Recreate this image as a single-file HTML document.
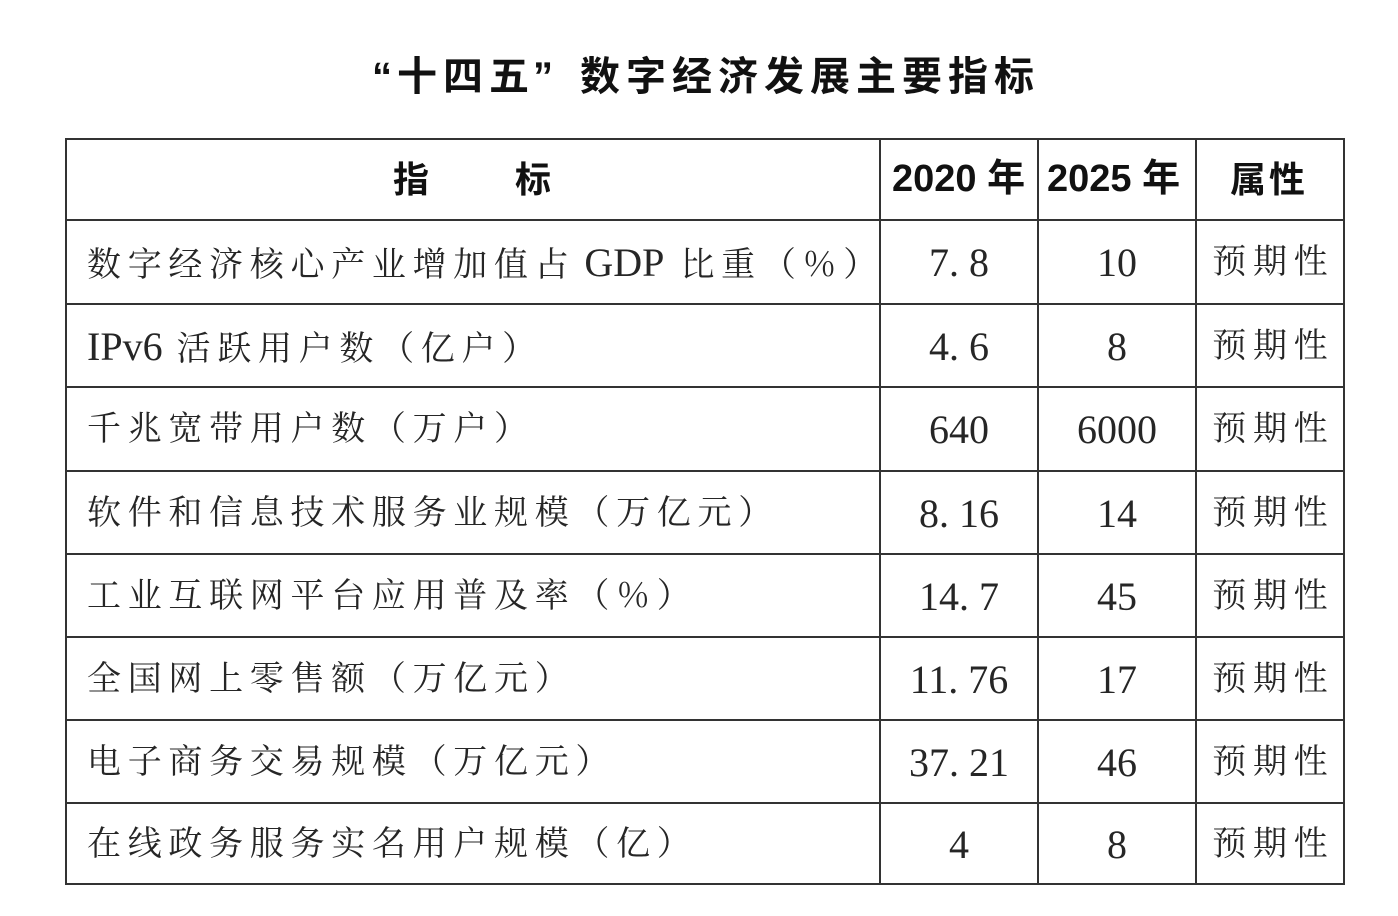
<!DOCTYPE html>
<html>
<head>
<meta charset="utf-8">
<style>
html,body{margin:0;padding:0}
body{width:1398px;height:916px;background:#fff;position:relative;overflow:hidden}
.h,.v{position:absolute;background:#333}
.h{left:65px;width:1280px;height:2px}
.v{top:138px;height:747px;width:2px}
.c{position:absolute;white-space:nowrap;color:#262626;font-family:"Liberation Serif","Noto Serif CJK SC",serif;font-size:34px}
.z{font-family:"Liberation Serif","Noto Serif CJK SC",serif;font-size:34px;letter-spacing:6.7px}
.l{font-family:"Liberation Serif",serif;font-size:40px;letter-spacing:0}
.n{position:absolute;white-space:nowrap;text-align:center;color:#262626;font-family:"Liberation Serif","Noto Serif CJK SC",serif;font-size:40px}
.p{position:absolute;white-space:nowrap;text-align:center;color:#262626;font-family:"Liberation Serif","Noto Serif CJK SC",serif;font-size:34px;letter-spacing:6.7px;text-indent:6.7px}
.b{position:absolute;white-space:nowrap;color:#111;font-family:"Liberation Sans","Noto Sans CJK SC",sans-serif;font-weight:bold}
</style>
</head>
<body>

<!-- Title -->
<div class="b" style="left:372px;top:51px;height:52px;line-height:52px;font-size:40px;">“</div>
<div class="b" style="left:397px;top:51px;height:52px;line-height:52px;font-size:40px;letter-spacing:6px;">十四五</div>
<div class="b" style="left:533px;top:51px;height:52px;line-height:52px;font-size:40px;">”</div>
<div class="b" style="left:580px;top:51px;height:52px;line-height:52px;font-size:40px;letter-spacing:6px;">数字经济发展主要指标</div>

<!-- Grid lines -->
<div class="h" style="top:138px"></div>
<div class="h" style="top:219px"></div>
<div class="h" style="top:303px"></div>
<div class="h" style="top:386px"></div>
<div class="h" style="top:470px"></div>
<div class="h" style="top:553px"></div>
<div class="h" style="top:636px"></div>
<div class="h" style="top:719px"></div>
<div class="h" style="top:802px"></div>
<div class="h" style="top:883px"></div>
<div class="v" style="left:65px"></div>
<div class="v" style="left:879px"></div>
<div class="v" style="left:1037px"></div>
<div class="v" style="left:1195px"></div>
<div class="v" style="left:1343px"></div>

<!-- Header -->
<div class="b" style="left:393px;top:139px;height:81px;line-height:81px;font-size:36px;">指</div>
<div class="b" style="left:515px;top:139px;height:81px;line-height:81px;font-size:36px;">标</div>
<div class="b" style="left:892px;top:139px;height:81px;line-height:81px;font-size:38px;">2020 年</div>
<div class="b" style="left:1047px;top:139px;height:81px;line-height:81px;font-size:38px;">2025 年</div>
<div class="b" style="left:1230px;top:139px;height:81px;line-height:81px;font-size:36px;letter-spacing:3px;">属性</div>

<!-- Row 1 -->
<div class="c" style="left:87px;top:221px;height:84px;line-height:84px;"><span class="z">数字经济核心产业增加值占</span><span class="l" style="margin-left:9px;margin-right:16px;">GDP</span><span class="z">比重（％）</span></div>
<div class="n" style="left:881px;width:156px;top:221px;height:84px;line-height:84px;">7. 8</div>
<div class="n" style="left:1039px;width:156px;top:221px;height:84px;line-height:84px;">10</div>
<div class="p" style="left:1197px;width:146px;top:221px;height:84px;line-height:84px;">预期性</div>

<!-- Row 2 -->
<div class="c" style="left:87px;top:305px;height:83px;line-height:83px;"><span class="l">IPv6</span><span class="z" style="margin-left:14px;">活跃用户数（亿户）</span></div>
<div class="n" style="left:881px;width:156px;top:305px;height:83px;line-height:83px;">4. 6</div>
<div class="n" style="left:1039px;width:156px;top:305px;height:83px;line-height:83px;">8</div>
<div class="p" style="left:1197px;width:146px;top:305px;height:83px;line-height:83px;">预期性</div>

<!-- Row 3 -->
<div class="c" style="left:87px;top:388px;height:84px;line-height:84px;"><span class="z">千兆宽带用户数（万户）</span></div>
<div class="n" style="left:881px;width:156px;top:388px;height:84px;line-height:84px;">640</div>
<div class="n" style="left:1039px;width:156px;top:388px;height:84px;line-height:84px;">6000</div>
<div class="p" style="left:1197px;width:146px;top:388px;height:84px;line-height:84px;">预期性</div>

<!-- Row 4 -->
<div class="c" style="left:87px;top:472px;height:83px;line-height:83px;"><span class="z">软件和信息技术服务业规模（万亿元）</span></div>
<div class="n" style="left:881px;width:156px;top:472px;height:83px;line-height:83px;">8. 16</div>
<div class="n" style="left:1039px;width:156px;top:472px;height:83px;line-height:83px;">14</div>
<div class="p" style="left:1197px;width:146px;top:472px;height:83px;line-height:83px;">预期性</div>

<!-- Row 5 -->
<div class="c" style="left:87px;top:555px;height:83px;line-height:83px;"><span class="z">工业互联网平台应用普及率（％）</span></div>
<div class="n" style="left:881px;width:156px;top:555px;height:83px;line-height:83px;">14. 7</div>
<div class="n" style="left:1039px;width:156px;top:555px;height:83px;line-height:83px;">45</div>
<div class="p" style="left:1197px;width:146px;top:555px;height:83px;line-height:83px;">预期性</div>

<!-- Row 6 -->
<div class="c" style="left:87px;top:638px;height:83px;line-height:83px;"><span class="z">全国网上零售额（万亿元）</span></div>
<div class="n" style="left:881px;width:156px;top:638px;height:83px;line-height:83px;">11. 76</div>
<div class="n" style="left:1039px;width:156px;top:638px;height:83px;line-height:83px;">17</div>
<div class="p" style="left:1197px;width:146px;top:638px;height:83px;line-height:83px;">预期性</div>

<!-- Row 7 -->
<div class="c" style="left:87px;top:721px;height:83px;line-height:83px;"><span class="z">电子商务交易规模（万亿元）</span></div>
<div class="n" style="left:881px;width:156px;top:721px;height:83px;line-height:83px;">37. 21</div>
<div class="n" style="left:1039px;width:156px;top:721px;height:83px;line-height:83px;">46</div>
<div class="p" style="left:1197px;width:146px;top:721px;height:83px;line-height:83px;">预期性</div>

<!-- Row 8 -->
<div class="c" style="left:87px;top:804px;height:82px;line-height:82px;"><span class="z">在线政务服务实名用户规模（亿）</span></div>
<div class="n" style="left:881px;width:156px;top:804px;height:82px;line-height:82px;">4</div>
<div class="n" style="left:1039px;width:156px;top:804px;height:82px;line-height:82px;">8</div>
<div class="p" style="left:1197px;width:146px;top:804px;height:82px;line-height:82px;">预期性</div>

</body>
</html>
